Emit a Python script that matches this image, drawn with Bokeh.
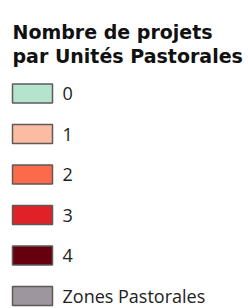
from bokeh.plotting import figure
from bokeh.models import Range1d, ColumnDataSource
from bokeh.core.properties import value
from bokeh.embed import file_html
from bokeh.resources import INLINE

title_lines = ["Nombre de projets", "par Unités Pastorales"]
labels = ["0", "1", "2", "3", "4", "Zones Pastorales"]
colors = ["#b4e4cd", "#fcbca2", "#fb6a4a", "#de2228", "#66000e", "#9d969e"]

W, H = 248, 308
p = figure(width=W, height=H, output_backend="svg", toolbar_location=None,
           x_range=Range1d(0, W), y_range=Range1d(H, 0),
           min_border=0, outline_line_color=None)
p.axis.visible = False
p.grid.visible = False
p.background_fill_color = "white"

# title
p.text(x=[12] * len(title_lines), y=[31 + 24 * i for i in range(len(title_lines))],
       text=title_lines, text_font=value("DejaVu Sans"), text_font_style="bold",
       text_font_size="19px", text_color="#111111", text_baseline="alphabetic")

n = len(labels)
ys = [93 + 40.5 * i for i in range(n)]
src = ColumnDataSource(dict(x=[32] * n, y=ys, c=colors, t=labels, tx=[62] * n))
p.rect(x="x", y="y", width=40, height=19, fill_color="c", line_color="#5e5a5a",
       line_width=1.5, source=src)
p.text(x="tx", y="y", text="t", text_font=value("Open Sans"), text_font_size="18px",
       text_color="#222222", text_baseline="middle", source=src)

open("out.html", "w").write(file_html(p, INLINE))
